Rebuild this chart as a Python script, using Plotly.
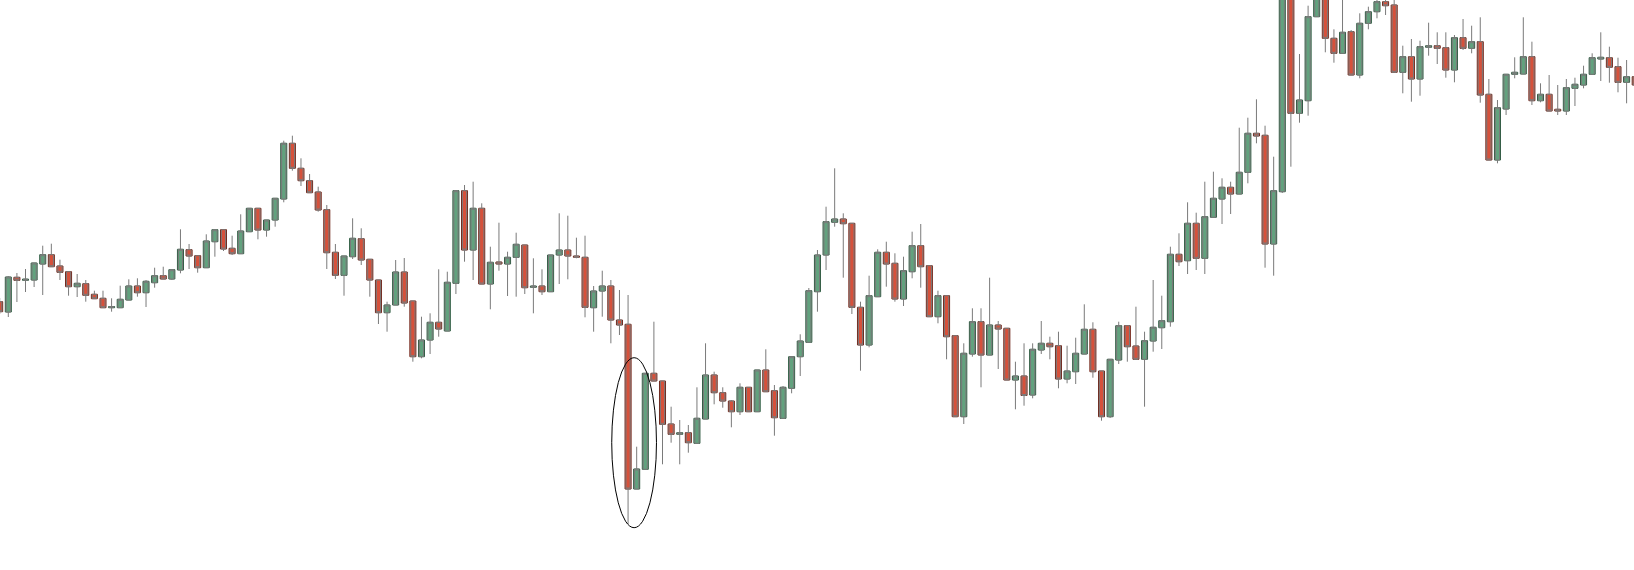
import plotly.graph_objects as go

# OHLC values (arbitrary price units)
open_ = [268.3, 258, 292.7, 289.7, 290, 306, 315.3, 304, 298.3, 283.3,
         286.3, 275.7, 271.7, 262.3, 262.3, 270, 284, 277.3, 287.3, 294.3,
         291, 300, 320.3, 314.3, 302.3, 328.3, 340.3, 321.7, 316.3, 338.3,
         361.7, 340, 350, 371, 426.7, 401.7, 389.3, 378, 360.3, 317.7,
         294.7, 313.3, 331.3, 310.7, 290, 257.3, 265, 298, 269, 213.3,
         230, 247.7, 239, 286.7, 379.3, 320, 361.7, 286, 308, 306,
         312.7, 325, 282.7, 284, 278.3, 315, 320, 314, 312.7, 262.3,
         279, 284, 250, 245.7, 81, 100.7, 196.7, 189, 146, 135.7,
         137.3, 126.7, 151, 195, 177.3, 169, 158.3, 182.7, 158.3, 200,
         179.3, 151.7, 181.7, 213.3, 227.7, 278.3, 315, 347.7, 351, 346.7,
         262.7, 225, 273.3, 317.7, 306.7, 271, 298.3, 324.3, 304.3, 253.3,
         274.3, 234.3, 153.3, 216, 248.3, 215, 245, 241.7, 190, 194,
         175, 220, 226.7, 224.3, 191, 198.3, 216, 240.7, 199, 153.3,
         210, 244.3, 224, 210.7, 229, 242.3, 248.3, 315.7, 309.3, 346.7,
         311.7, 352.7, 371, 382.7, 376, 397.7, 436.7, 434.7, 326, 378.3,
         595, 456.7, 469.3, 553.3, 578, 531.7, 516.7, 538.3, 495, 546.7,
         558.3, 568.3, 565, 497.7, 513.3, 491, 522.7, 524.3, 522.3, 500,
         532.3, 521.7, 528.3, 475.7, 410, 461, 495.7, 496, 513.3, 469.3,
         475.7, 460.7, 459, 481.7, 485, 495.7, 511, 512.3, 503.3, 487.7,
         493.3]
high = [272, 294, 297, 301, 307, 324.3, 326.3, 310.3, 298.3, 296,
        290, 279.3, 279.3, 271.7, 284.3, 290.7, 291.7, 290, 302.3, 303.3,
        300.3, 340.7, 326, 314.3, 335.7, 340.3, 340.3, 334.3, 355.7, 361.7,
        361.7, 350, 371.7, 429.3, 434.3, 411.7, 396, 383.3, 365, 326,
        314, 351.7, 341.7, 310.7, 290, 268.3, 310, 312, 269, 253.3,
        256.7, 300.7, 298.3, 379.3, 385, 388.3, 366.7, 323.3, 347.3, 318.3,
        337.3, 325, 311.7, 300.7, 315, 356.7, 354.3, 332.3, 334.3, 284,
        299.3, 290, 280, 275, 123.3, 196.7, 248.3, 189, 163.3, 150,
        145, 182.7, 226.7, 198.3, 182.7, 170, 186.7, 182.7, 200, 220.7,
        185, 184, 213.3, 235.7, 282, 320, 363.3, 401.7, 356.7, 346.7,
        268.3, 294.3, 320.7, 328.3, 316.7, 313.3, 338.3, 346, 304.3, 279.3,
        274.3, 234.3, 226.7, 261.7, 261.7, 292.3, 249, 241.7, 208.3, 226.7,
        226.7, 249, 233.3, 238.3, 224.3, 232.3, 265.7, 247.7, 199, 210.7,
        248.3, 244.3, 263.3, 238.3, 290, 274.3, 323.3, 336.7, 367.7, 357.3,
        388.3, 398.3, 391.7, 388.3, 442.3, 452.3, 470.7, 444.3, 413.3, 605,
        602, 516, 564.3, 582, 582, 540.7, 576, 540, 556.7, 563.3,
        572, 573, 572, 524.3, 531, 529.3, 547.3, 537.7, 537.7, 535,
        551, 544.3, 552.7, 491, 470, 495.7, 512.7, 552.7, 528.3, 486.7,
        495, 485, 491, 492.3, 504.3, 516.7, 537.7, 523.3, 512.3, 510,
        500]
low = [256, 253, 268, 278, 283, 275, 303.3, 290, 274.3, 273,
       268.3, 271.3, 262.3, 258.3, 262.3, 270, 273.3, 263, 282.3, 291,
       290, 296.7, 301, 297.3, 302.3, 313.3, 319, 315, 316.3, 338.3,
       330.7, 333.3, 343.3, 367.7, 399.3, 384, 377.3, 358.3, 301, 291,
       274.3, 311, 305, 273.3, 246, 238.3, 265, 263.3, 208.3, 211.7,
       216, 233.3, 239, 276, 308.3, 290, 286, 260.7, 299.3, 274,
       273.3, 276, 256.7, 275, 278.3, 286, 290.7, 311.7, 252.7, 238.3,
       253.3, 226.7, 235, 46, 81, 100.7, 189, 105.7, 127.3, 105.7,
       117.3, 126.7, 151, 165.7, 162.3, 142.7, 155, 158.3, 158.3, 178.3,
       134.3, 151.7, 176.7, 194, 227.7, 258.3, 300, 343.3, 292.3, 256,
       199.3, 222.7, 273.3, 283.3, 268.3, 264, 291.7, 282.3, 253.3, 246.7,
       210.7, 153.3, 146, 213.3, 182.7, 215, 201, 190, 160.7, 164.3,
       171.7, 216, 210.7, 181.7, 186.7, 186, 216, 192.3, 149.3, 152,
       206, 208.3, 210.7, 163.3, 218.3, 221, 243.3, 304, 296, 300,
       296, 352.7, 346, 356, 376, 386.7, 426.7, 302.3, 294.3, 377,
       403.3, 447.3, 454.3, 553.3, 517.7, 507.3, 516.7, 495, 491.7, 540.7,
       551.7, 555, 497.7, 476.7, 468.3, 474.3, 514.3, 506, 492.3, 487.7,
       520, 516.7, 467.3, 410, 406.7, 455, 491.7, 496, 465, 467.7,
       459, 455, 455, 464, 481.7, 495.7, 489, 487.3, 477.7, 466.7,
       470]
close = [258.3, 293, 289.7, 290.7, 307, 315.3, 303.3, 297.7, 283.3, 286.7,
         274.7, 271.3, 262.3, 263.3, 270.7, 284, 277.3, 288.7, 294.3, 291,
         300.3, 320.7, 314, 302.3, 329, 340.3, 321, 316.3, 339, 361.7,
         340, 350, 371.7, 426.7, 401.7, 389.3, 377.3, 360, 317.3, 294.7,
         314, 331.7, 310, 290, 257.3, 265, 298, 267, 213.3, 230,
         247.7, 241, 287.7, 379.3, 320, 361.7, 286, 307.7, 306, 312.7,
         325.7, 282.3, 284, 278.3, 315, 320, 314, 312.7, 262.7, 279,
         284, 250, 245, 81, 101, 196.7, 189, 145.7, 135.7, 137.3,
         127.3, 151.7, 195, 177.3, 169, 158.3, 182.7, 158.3, 200, 178.3,
         152.3, 182.7, 213.3, 229, 279.3, 315, 348.3, 351, 346.3, 262.7,
         225, 274.3, 317.7, 306, 271, 299.3, 324.3, 303.3, 253.3, 274.3,
         233.3, 153.3, 216.7, 248.3, 215, 245, 241, 190, 194, 174.5,
         220.7, 226.7, 223.3, 191, 199, 216.7, 240.7, 198.3, 153.3, 210.7,
         244.3, 223.3, 210.7, 229.3, 242.7, 249.3, 315.7, 308.3, 346.7, 311.7,
         353.3, 371.7, 382.7, 376, 397.7, 436.7, 434, 326, 379.3, 600,
         456.7, 470, 553.3, 578, 531.7, 516.7, 537.7, 495, 546.7, 558.3,
         568.3, 564.3, 497.7, 513.3, 491, 523.3, 524.3, 521.7, 500, 532.3,
         521.7, 528.3, 475, 410, 462.3, 495.7, 497.7, 513.3, 469.3, 475.7,
         459, 459, 482.3, 485.7, 495.7, 512.3, 512.7, 502.7, 487.7, 493.3,
         485]

x_idx = list(range(len(open_)))

# highlighted pattern (ellipse) around candles 71-76, in data units
ring_x = [71.1, 76.3]
ring_y = [42.3, 212.3]

GREEN_FILL = "#62a27e"
GREEN_LINE = "#2e5a40"
RED_FILL = "#d6513b"
RED_LINE = "#6e2519"
WICK = "#7a7a7a"

fig = go.Figure()

# wicks via candlestick
fig.add_trace(go.Candlestick(
    x=x_idx, open=open_, high=high, low=low, close=close,
    increasing=dict(line=dict(color=WICK, width=1), fillcolor=GREEN_FILL),
    decreasing=dict(line=dict(color=WICK, width=1), fillcolor=RED_FILL),
    whiskerwidth=0, hoverinfo="skip", showlegend=False,
))

# bodies via bars with darker outline
base = [min(o, c) for o, c in zip(open_, close)]
height = [max(abs(c - o), 1.2) for o, c in zip(open_, close)]
fill = [GREEN_FILL if c >= o else RED_FILL for o, c in zip(open_, close)]
edge = [GREEN_LINE if c >= o else RED_LINE for o, c in zip(open_, close)]
fig.add_trace(go.Bar(
    x=x_idx, y=height, base=base, width=0.7,
    marker=dict(color=fill, line=dict(color=edge, width=1)),
    hoverinfo="skip", showlegend=False,
))

fig.add_shape(type="circle", xref="x", yref="y",
              x0=ring_x[0], x1=ring_x[1], y0=ring_y[0], y1=ring_y[1],
              line=dict(color="black", width=1))

fig.update_layout(
    width=1634, height=570,
    margin=dict(l=0, r=0, t=0, b=0),
    paper_bgcolor="white", plot_bgcolor="white",
    barmode="overlay", showlegend=False,
    xaxis=dict(visible=False, range=[0.036, 189.86], rangeslider=dict(visible=False),
               fixedrange=True),
    yaxis=dict(visible=False, range=[0, 570], fixedrange=True),
)

fig.write_html("out.html", config={"displayModeBar": False},
               post_script="document.body.style.margin='0';document.body.style.overflow='hidden';")
